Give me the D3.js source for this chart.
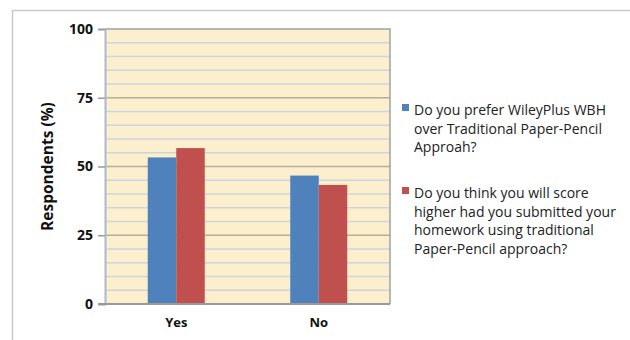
<!DOCTYPE html>
<html>
<head>
<meta charset="utf-8">
<script src="https://cdn.jsdelivr.net/npm/d3@7"></script>
<style>
  body { margin: 0; background: #fff; }
  svg { display: block; }
</style>
</head>
<body>
<div id="chart"></div>
<script>
const categories = ['Yes', 'No']
const seriesNames = ['Do you prefer WileyPlus WBH over Traditional Paper-Pencil Approah?',
    'Do you think you will score higher had you submitted your homework using traditional Paper-Pencil approach?']
const legendLines = [['Do you prefer WileyPlus WBH', 'over Traditional Paper-Pencil', 'Approah?'],
    ['Do you think you will score', 'higher had you submitted your', 'homework using traditional', 'Paper-Pencil approach?']]
const preferWBH = [53.3, 46.7]
const scoreHigher = [56.7, 43.3]
const yTicks = [0, 25, 50, 75, 100]
const minorTicks = d3.range(5, 100, 5).filter(v => v % 25 !== 0)
const colors = ['#4f81bd', '#c0504d']
const font = '"Open Sans", Lato, sans-serif'

function draw_chart() {
    const width = 630, height = 340
    const margins = {'left': 105, 'right': 240, 'top': 29, 'bottom': 36}

    const svg = d3.select('#chart').append('svg')
        .attr('width', width).attr('height', height)

    // outer frame (only top and left edges show)
    svg.append('path').attr('d', 'M12.5,340 V10.5 H630')
        .attr('fill', 'none').attr('stroke', '#c9c9c9').attr('stroke-width', 1.5)

    const x = d3.scaleBand().domain(categories)
        .range([margins.left, width - margins.right]).paddingInner(0).paddingOuter(0)
    const y = d3.scaleLinear().domain([0, 100]).range([height - margins.bottom, margins.top])
    const inner = d3.scaleBand().domain([0, 1]).range([0, x.bandwidth()]).paddingInner(0).paddingOuter(1.5)

    // paper background
    svg.append('rect')
        .attr('x', x.range()[0]).attr('y', y(100))
        .attr('width', x.range()[1] - x.range()[0]).attr('height', y(0) - y(100))
        .attr('fill', '#fcefcd')

    svg.append('g').selectAll('line').data(minorTicks).join('line')
        .attr('x1', x.range()[0]).attr('x2', x.range()[1])
        .attr('y1', d => y(d)).attr('y2', d => y(d))
        .attr('stroke', '#cdd5dc').attr('stroke-width', 1.5)

    svg.append('g').selectAll('line').data(yTicks.filter(d => d > 0 && d < 100)).join('line')
        .attr('x1', x.range()[0]).attr('x2', x.range()[1])
        .attr('y1', d => y(d)).attr('y2', d => y(d))
        .attr('stroke', '#b7ad98').attr('stroke-width', 1.5)

    // plot border: top and right gray, left light blue
    svg.append('path')
        .attr('d', `M${x.range()[0]},${y(100)} H${x.range()[1]} V${y(0)}`)
        .attr('fill', 'none').attr('stroke', '#9fa3a6').attr('stroke-width', 1.5)

    const rows = categories.map((c, i) => ({'cat': c, 'values': [preferWBH[i], scoreHigher[i]]}))
    svg.append('g').selectAll('g').data(rows).join('g')
        .attr('transform', d => `translate(${x(d.cat)},0)`)
        .selectAll('rect').data(d => d.values).join('rect')
        .attr('x', (d, i) => inner(i))
        .attr('width', inner.bandwidth())
        .attr('y', d => y(d))
        .attr('height', d => y(0) - y(d))
        .attr('fill', (d, i) => colors[i])

    // y axis
    const yAxis = svg.append('g').attr('transform', `translate(${margins.left},0)`)
        .call(d3.axisLeft(y).tickValues(yTicks).tickSize(7).tickPadding(5))
    yAxis.select('.domain').attr('stroke', '#a8bcd0').attr('stroke-width', 2)
    yAxis.selectAll('.tick line').attr('stroke', '#9a9a9a').attr('stroke-width', 1.5)
    yAxis.selectAll('text').attr('font-family', font)
        .attr('font-weight', 'bold').attr('font-size', 14).attr('fill', '#111')

    // x axis baseline
    const xAxis = svg.append('g').attr('transform', `translate(0,${y(0)})`)
        .call(d3.axisBottom(x).tickSize(0).tickPadding(14))
    xAxis.select('.domain').attr('stroke', '#9a9a9a').attr('stroke-width', 2)
        .attr('d', `M${x.range()[0] - 7},0H${x.range()[1]}`)
    xAxis.selectAll('text').attr('font-family', font)
        .attr('font-weight', 'bold').attr('font-size', 13).attr('fill', '#111')

    svg.append('text')
        .attr('transform', `translate(53,${(y(0) + y(100)) / 2}) rotate(-90)`)
        .attr('text-anchor', 'middle')
        .attr('font-family', font)
        .attr('font-weight', 'bold').attr('font-size', 15.5).attr('fill', '#111')
        .text('Respondents (%)')

    // legend
    const legendTops = [104, 187]
    const legend = svg.append('g').selectAll('g').data(seriesNames).join('g')
        .attr('transform', (d, i) => `translate(402,${legendTops[i]})`)
    legend.append('rect').attr('width', 7).attr('height', 7).attr('fill', (d, i) => colors[i])
    legend.append('text')
        .attr('font-family', font).attr('font-size', 14).attr('fill', '#222')
        .selectAll('tspan').data((d, i) => legendLines[i]).join('tspan')
        .attr('x', 12).attr('y', (d, j) => 11 + j * 18.6)
        .text(d => d)
}

draw_chart()
</script>
</body>
</html>
